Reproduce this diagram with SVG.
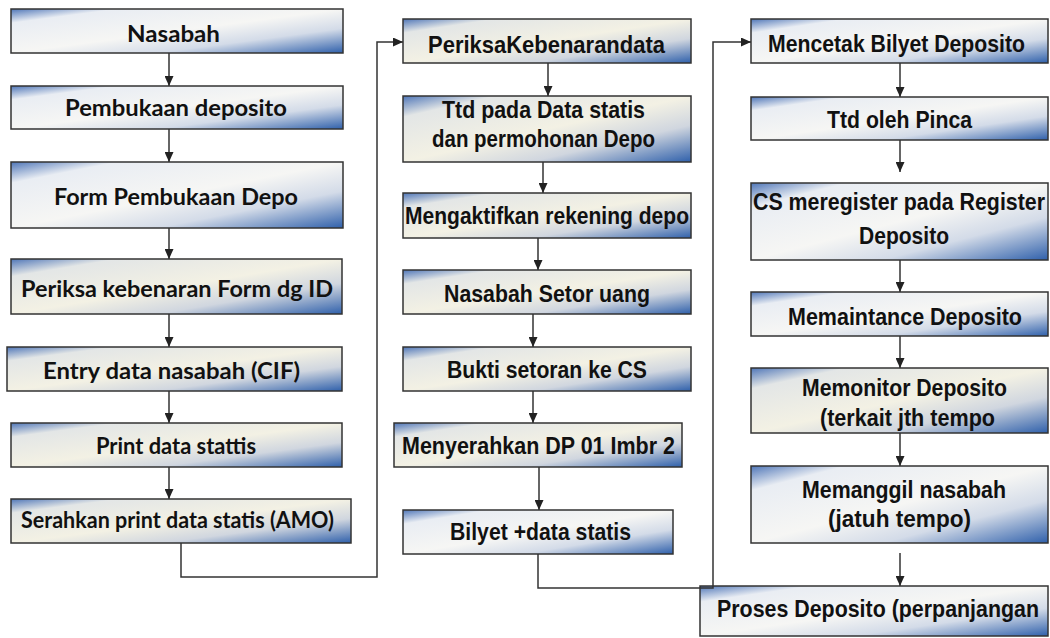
<svg xmlns="http://www.w3.org/2000/svg" width="1050" height="638" viewBox="0 0 1050 638">
<defs>
<linearGradient id="gW" x1="0" y1="0" x2="1" y2="1">
<stop offset="0" stop-color="#4f76b8"/>
<stop offset="0.16" stop-color="#e9edf3"/>
<stop offset="0.5" stop-color="#f6f6f4"/>
<stop offset="0.72" stop-color="#d3dbe8"/>
<stop offset="1" stop-color="#2f60ab"/>
</linearGradient>
<linearGradient id="gB" x1="0" y1="0" x2="1" y2="1">
<stop offset="0" stop-color="#4f76b8"/>
<stop offset="0.16" stop-color="#e3e6e6"/>
<stop offset="0.5" stop-color="#f3f1e4"/>
<stop offset="0.72" stop-color="#d0d6df"/>
<stop offset="1" stop-color="#2f60ab"/>
</linearGradient>
<marker id="ah" markerUnits="userSpaceOnUse" markerWidth="10" markerHeight="9" refX="10" refY="4.5" orient="auto">
<path d="M0,0 L10,4.5 L0,9 z" fill="#222"/>
</marker>
</defs>
<style>
.box{stroke:#333;stroke-width:1.5}
.w{fill:url(#gW)}
.b{fill:url(#gB)}
text{fill:#111;font-weight:bold}
.l{font-family:Lato,"Liberation Sans",sans-serif;font-size:23px}
.n{font-family:"Liberation Sans Narrow","Liberation Sans",Arial,sans-serif;font-size:24.5px}
.c{fill:none;stroke:#333;stroke-width:1.5}
</style>
<rect width="1050" height="638" fill="#fff"/>

<g id="connectors">
<line class="c" x1="169" y1="53" x2="169" y2="86" marker-end="url(#ah)"/>
<line class="c" x1="169" y1="129" x2="169" y2="162" marker-end="url(#ah)"/>
<line class="c" x1="169" y1="228" x2="169" y2="259" marker-end="url(#ah)"/>
<line class="c" x1="169" y1="314" x2="169" y2="347" marker-end="url(#ah)"/>
<line class="c" x1="169" y1="391" x2="169" y2="423" marker-end="url(#ah)"/>
<line class="c" x1="169" y1="467" x2="169" y2="499" marker-end="url(#ah)"/>
<polyline class="c" points="181,543 181,577 377,577 377,42 403,42" marker-end="url(#ah)"/>
<line class="c" x1="548" y1="63" x2="548" y2="96" marker-end="url(#ah)"/>
<line class="c" x1="543" y1="162" x2="543" y2="193" marker-end="url(#ah)"/>
<line class="c" x1="538" y1="238" x2="538" y2="270" marker-end="url(#ah)"/>
<line class="c" x1="533" y1="314" x2="533" y2="347" marker-end="url(#ah)"/>
<line class="c" x1="533" y1="391" x2="533" y2="423" marker-end="url(#ah)"/>
<line class="c" x1="539" y1="467" x2="539" y2="510" marker-end="url(#ah)"/>
<line class="c" x1="900" y1="63" x2="900" y2="97" marker-end="url(#ah)"/>
<line class="c" x1="900" y1="140" x2="900" y2="172" marker-end="url(#ah)"/>
<line class="c" x1="900" y1="260" x2="900" y2="292" marker-end="url(#ah)"/>
<line class="c" x1="900" y1="336" x2="900" y2="368" marker-end="url(#ah)"/>
<line class="c" x1="900" y1="433" x2="900" y2="466" marker-end="url(#ah)"/>
<line class="c" x1="900" y1="553" x2="900" y2="586" marker-end="url(#ah)"/>
</g>

<g id="n1"><rect class="box w" x="11" y="9" width="332" height="44"/><text class="l" x="127" y="42" textLength="93" lengthAdjust="spacingAndGlyphs">Nasabah</text></g>
<g id="n2"><rect class="box w" x="11" y="86" width="332" height="43"/><text class="l" x="65" y="116" textLength="222" lengthAdjust="spacingAndGlyphs">Pembukaan deposito</text></g>
<g id="n3"><rect class="box w" x="11" y="162" width="332" height="66"/><text class="l" x="54" y="205" textLength="244" lengthAdjust="spacingAndGlyphs">Form Pembukaan Depo</text></g>
<g id="n4"><rect class="box b" x="11" y="259" width="331" height="55"/><text class="l" x="21" y="297" textLength="312" lengthAdjust="spacingAndGlyphs">Periksa kebenaran Form dg ID</text></g>
<g id="n5"><rect class="box b" x="7" y="347" width="335" height="44"/><text class="l" x="43" y="379" textLength="257" lengthAdjust="spacingAndGlyphs">Entry data nasabah (CIF)</text></g>
<g id="n6"><rect class="box b" x="11" y="423" width="331" height="44"/><text class="l" x="96" y="454" textLength="160" lengthAdjust="spacingAndGlyphs">Print data stattis</text></g>
<g id="n7"><rect class="box b" x="11" y="499" width="340" height="44"/><text class="l" x="21" y="528" textLength="313" lengthAdjust="spacingAndGlyphs">Serahkan print data statis (AMO)</text></g>

<g id="m1"><rect class="box b" x="403" y="19" width="288" height="44"/><text class="n" x="428" y="53" textLength="237" lengthAdjust="spacingAndGlyphs">PeriksaKebenarandata</text></g>
<g id="m2"><rect class="box b" x="403" y="96" width="288" height="66"/><text class="n" x="442" y="118" textLength="203" lengthAdjust="spacingAndGlyphs">Ttd pada Data statis</text><text class="n" x="432" y="147" textLength="223" lengthAdjust="spacingAndGlyphs">dan permohonan Depo</text></g>
<g id="m3"><rect class="box b" x="403" y="193" width="288" height="45"/><text class="n" x="405" y="224" textLength="284" lengthAdjust="spacingAndGlyphs">Mengaktifkan rekening depo</text></g>
<g id="m4"><rect class="box b" x="403" y="270" width="288" height="44"/><text class="n" x="444" y="302" textLength="206" lengthAdjust="spacingAndGlyphs">Nasabah Setor uang</text></g>
<g id="m5"><rect class="box b" x="403" y="347" width="288" height="44"/><text class="n" x="447" y="378" textLength="200" lengthAdjust="spacingAndGlyphs">Bukti setoran ke CS</text></g>
<g id="m6"><rect class="box b" x="394" y="423" width="288" height="44"/><text class="n" x="402" y="454" textLength="273" lengthAdjust="spacingAndGlyphs">Menyerahkan DP 01 Imbr 2</text></g>
<g id="m7"><rect class="box w" x="403" y="510" width="270" height="44"/><text class="n" x="450" y="540" textLength="181" lengthAdjust="spacingAndGlyphs">Bilyet +data statis</text></g>

<g id="r1"><rect class="box w" x="751" y="19" width="297" height="44"/><text class="n" x="768" y="52" textLength="257" lengthAdjust="spacingAndGlyphs">Mencetak Bilyet Deposito</text></g>
<g id="r2"><rect class="box w" x="751" y="97" width="297" height="43"/><text class="n" x="827" y="128" textLength="145" lengthAdjust="spacingAndGlyphs">Ttd oleh Pinca</text></g>
<g id="r3"><rect class="box w" x="751" y="183" width="297" height="77"/><text class="n" x="753" y="210" textLength="292" lengthAdjust="spacingAndGlyphs">CS meregister pada Register</text><text class="n" x="859" y="244" textLength="90" lengthAdjust="spacingAndGlyphs">Deposito</text></g>
<g id="r4"><rect class="box w" x="751" y="292" width="297" height="44"/><text class="n" x="788" y="325" textLength="234" lengthAdjust="spacingAndGlyphs">Memaintance Deposito</text></g>
<g id="r5"><rect class="box b" x="751" y="368" width="297" height="65"/><text class="n" x="802" y="396" textLength="205" lengthAdjust="spacingAndGlyphs">Memonitor Deposito</text><text class="n" x="820" y="426" textLength="175" lengthAdjust="spacingAndGlyphs">(terkait jth tempo</text></g>
<g id="r6"><rect class="box w" x="751" y="466" width="297" height="77"/><text class="n" x="802" y="498" textLength="204" lengthAdjust="spacingAndGlyphs">Memanggil nasabah</text><text class="n" x="828" y="527" textLength="143" lengthAdjust="spacingAndGlyphs">(jatuh tempo)</text></g>
<g id="r7"><rect class="box w" x="700" y="586" width="348" height="50"/><text class="n" x="717" y="617" textLength="322" lengthAdjust="spacingAndGlyphs">Proses Deposito (perpanjangan</text></g>

<g id="connectors-over">
<polyline class="c" points="538,554 538,588 713,588 713,42 751,42" marker-end="url(#ah)"/>
</g>
</svg>
